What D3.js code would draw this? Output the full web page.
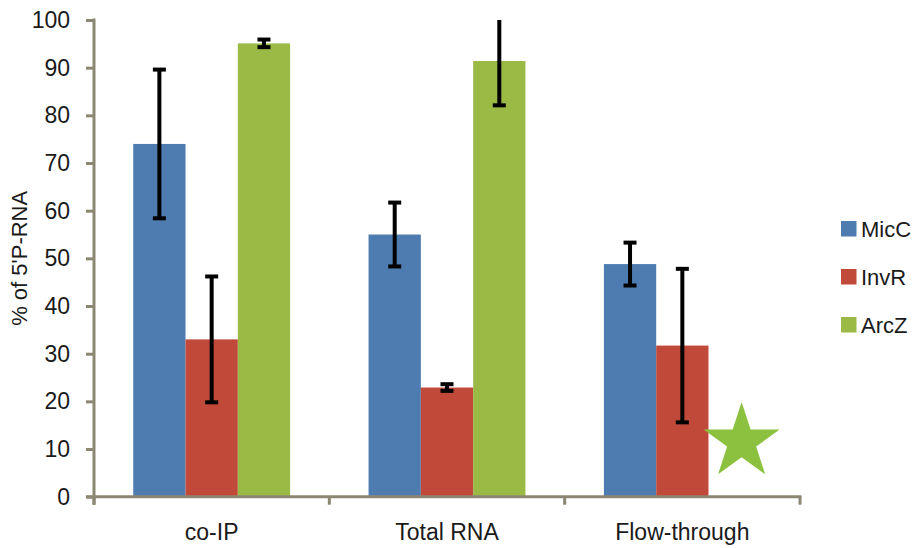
<!DOCTYPE html>
<html>
<head>
<meta charset="utf-8">
<script src="https://cdn.jsdelivr.net/npm/d3@7"></script>
<style>
  html, body { margin: 0; padding: 0; background: #fff; }
  svg { display: block; font-family: "Liberation Sans", Arial, sans-serif; }
</style>
</head>
<body>
<svg id="chart" width="917" height="548"></svg>
<script>
// ---- data ----
const categories = ["co-IP", "Total RNA", "Flow-through"];
const seriesNames = ["MicC", "InvR", "ArcZ"];
const micC = [74.0, 55.0, 48.8];
const micCErr = [15.6, 6.7, 4.5];
const invR = [33.0, 22.9, 31.7];
const invRErr = [13.2, 0.7, 16.1];
const arcZ = [95.1, 91.4, null];
const arcZErr = [0.8, 9.3, null];
const yTicks = [0, 10, 20, 30, 40, 50, 60, 70, 80, 90, 100];
const yTitle = "% of 5'P-RNA";
const starMarker = { category: "Flow-through", series: "ArcZ", value: 11.5 };

const colors = { MicC: "#4F7CB0", InvR: "#C0493A", ArcZ: "#9BBA45" };
const starColor = "#8CC13F";
const axisColor = "#8C8772";

const values = { MicC: micC, InvR: invR, ArcZ: arcZ };
const errors = { MicC: micCErr, InvR: invRErr, ArcZ: arcZErr };

const rows = [];
seriesNames.forEach(s => {
  categories.forEach((c, i) => {
    if (values[s][i] !== null) rows.push({ cat: c, series: s, value: values[s][i], err: errors[s][i] });
  });
});

// ---- layout ----
const svg = d3.select("#chart");
const mLeft = 94, mRight = 800, mTop = 20, mBottom = 496.7;

const y = d3.scaleLinear().domain([0, 100]).range([mBottom, mTop]);
const x0 = d3.scaleBand().domain(categories).range([mLeft, mRight]).padding(0);
const bw = x0.bandwidth();
const x1 = d3.scaleBand().domain(seriesNames).range([bw / 6, bw * 5 / 6]).padding(0);

// bars
svg.append("g").selectAll("rect").data(rows).join("rect")
  .attr("x", d => x0(d.cat) + x1(d.series))
  .attr("width", x1.bandwidth())
  .attr("y", d => y(d.value))
  .attr("height", d => y(0) - y(d.value))
  .attr("fill", d => colors[d.series]);

// star marker
(function () {
  const cx = x0(starMarker.category) + x1(starMarker.series) + x1.bandwidth() / 2 + 7;
  const cy = y(starMarker.value);
  const R = 40, r = R * 0.382;
  const pts = [];
  for (let k = 0; k < 10; k++) {
    const a = -Math.PI / 2 + k * Math.PI / 5;
    const rad = k % 2 === 0 ? R : r;
    pts.push([cx + rad * Math.cos(a), cy + rad * Math.sin(a)]);
  }
  svg.append("polygon").attr("points", pts.map(p => p.join(",")).join(" "))
    .attr("fill", starColor);
})();

// error bars
const eg = svg.append("g").attr("stroke", "#000").attr("stroke-width", 4);
const capW = 13;
rows.forEach(d => {
  const cx = x0(d.cat) + x1(d.series) + x1.bandwidth() / 2;
  const hiV = d.value + d.err, loV = d.value - d.err;
  const hi = Math.min(hiV, 100);
  eg.append("line").attr("x1", cx).attr("x2", cx).attr("y1", y(hi)).attr("y2", y(loV));
  if (hiV <= 100) {
    eg.append("line").attr("x1", cx - capW / 2).attr("x2", cx + capW / 2).attr("y1", y(hiV)).attr("y2", y(hiV));
  }
  eg.append("line").attr("x1", cx - capW / 2).attr("x2", cx + capW / 2).attr("y1", y(loV)).attr("y2", y(loV));
});

// y axis
const yAxis = d3.axisLeft(y).tickValues(yTicks).tickSize(8).tickPadding(16).tickFormat(d3.format("d"));
const gy = svg.append("g").attr("transform", `translate(${mLeft},0)`).call(yAxis);
gy.select(".domain").remove();
gy.selectAll(".tick line").attr("stroke", axisColor).attr("stroke-width", 3);
gy.selectAll(".tick text").attr("fill", "#1a1a1a").style("font-size", "23px")
  .style("font-family", "'Liberation Sans', Arial, sans-serif");
gy.append("line").attr("x1", 0).attr("x2", 0).attr("y1", mTop - 1.5).attr("y2", mBottom + 8)
  .attr("stroke", axisColor).attr("stroke-width", 3);

// x axis
const gx = svg.append("g").attr("transform", `translate(0,${mBottom})`);
gx.append("line").attr("x1", mLeft - 8).attr("x2", mRight + 1.5).attr("y1", 0).attr("y2", 0)
  .attr("stroke", axisColor).attr("stroke-width", 3);
const boundaries = categories.map(c => x0(c)).concat([mRight]);
gx.selectAll("line.tk").data(boundaries).join("line").attr("class", "tk")
  .attr("x1", d => d).attr("x2", d => d).attr("y1", 0).attr("y2", 8)
  .attr("stroke", axisColor).attr("stroke-width", 3);
gx.selectAll("text").data(categories).join("text")
  .attr("x", d => x0(d) + bw / 2).attr("y", 43)
  .attr("text-anchor", "middle").attr("fill", "#1a1a1a").style("font-size", "23px")
  .text(d => d);

// y title
svg.append("text")
  .attr("transform", `translate(27,${(mTop + mBottom) / 2}) rotate(-90)`)
  .attr("text-anchor", "middle").attr("fill", "#1a1a1a").style("font-size", "22px")
  .text(yTitle);

// legend
const lg = svg.append("g").attr("transform", "translate(841,221)");
seriesNames.forEach((s, i) => {
  const g = lg.append("g").attr("transform", `translate(0,${i * 48})`);
  g.append("rect").attr("width", 15.5).attr("height", 15.5).attr("fill", colors[s]);
  g.append("text").attr("x", 20).attr("y", 16).attr("fill", "#1a1a1a").style("font-size", "22px").text(s);
});
</script>
</body>
</html>
